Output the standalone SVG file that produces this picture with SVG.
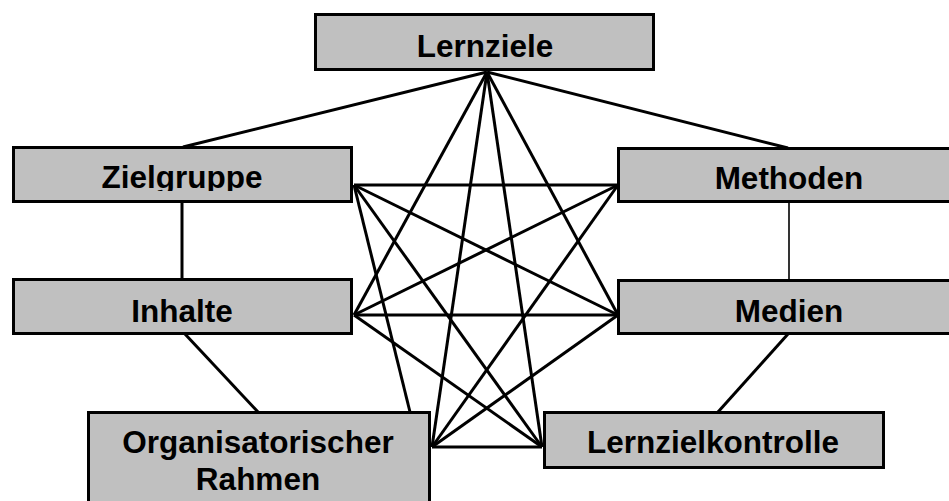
<svg xmlns="http://www.w3.org/2000/svg" width="949" height="501" viewBox="0 0 949 501">
<style>
.box{fill:#c0c0c0;stroke:#000;stroke-width:3}
.lbl{font-family:"Liberation Sans",Arial,sans-serif;font-weight:bold;font-size:31.5px;fill:#000;text-anchor:middle}
.edge{stroke:#000;stroke-width:3;fill:none}
.thin{stroke:#000;stroke-width:1.6;fill:none}
</style>
<defs>
<clipPath id="clipZ"><rect x="0" y="140" width="360" height="51"/></clipPath>
</defs>
<rect width="949" height="501" fill="#fff"/>
<g id="connectors">
<line class="edge" x1="487" y1="72" x2="183" y2="147"/>
<line class="edge" x1="487" y1="72" x2="788" y2="148"/>
<line class="edge" x1="487" y1="72" x2="354" y2="315"/>
<line class="edge" x1="487" y1="72" x2="618" y2="315"/>
<line class="edge" x1="487" y1="72" x2="432" y2="447"/>
<line class="edge" x1="487" y1="72" x2="542" y2="447"/>
<line class="edge" x1="354" y1="185" x2="618" y2="185"/>
<line class="edge" x1="182" y1="202" x2="182" y2="279"/>
<line class="edge" x1="354" y1="185" x2="618" y2="315"/>
<line class="edge" x1="354" y1="185" x2="410" y2="412"/>
<line class="edge" x1="354" y1="185" x2="542" y2="447"/>
<line class="edge" x1="618" y1="185" x2="354" y2="315"/>
<line class="thin" x1="789" y1="202" x2="789" y2="280"/>
<line class="edge" x1="618" y1="185" x2="432" y2="447"/>
<line class="edge" x1="354" y1="315" x2="618" y2="315"/>
<line class="edge" x1="185" y1="334" x2="258" y2="412"/>
<line class="edge" x1="354" y1="315" x2="542" y2="447"/>
<line class="edge" x1="618" y1="315" x2="432" y2="447"/>
<line class="edge" x1="788" y1="334" x2="718" y2="412"/>
<line class="edge" x1="432" y1="447" x2="542" y2="447"/>
</g>
<g id="lernziele">
<rect class="box" x="315.5" y="14.5" width="338" height="55"/>
<text class="lbl" x="485" y="57">Lernziele</text>
</g>
<g id="zielgruppe">
<rect class="box" x="13.5" y="147.5" width="338" height="54"/>
<text class="lbl" x="182" y="188" clip-path="url(#clipZ)">Zielgruppe</text>
</g>
<g id="methoden">
<rect class="box" x="618.5" y="148.5" width="400" height="53"/>
<text class="lbl" x="789" y="189">Methoden</text>
</g>
<g id="inhalte">
<rect class="box" x="13.5" y="279.5" width="338" height="54"/>
<text class="lbl" x="182" y="322">Inhalte</text>
</g>
<g id="medien">
<rect class="box" x="618.5" y="280.5" width="400" height="53"/>
<text class="lbl" x="789" y="322">Medien</text>
</g>
<g id="organisatorischer-rahmen">
<rect class="box" x="88.5" y="412.5" width="341" height="120"/>
<text class="lbl" x="258" y="453">Organisatorischer</text>
<text class="lbl" x="258" y="490">Rahmen</text>
</g>
<g id="lernzielkontrolle">
<rect class="box" x="544.5" y="412.5" width="339" height="55"/>
<text class="lbl" x="713" y="453">Lernzielkontrolle</text>
</g>
</svg>
